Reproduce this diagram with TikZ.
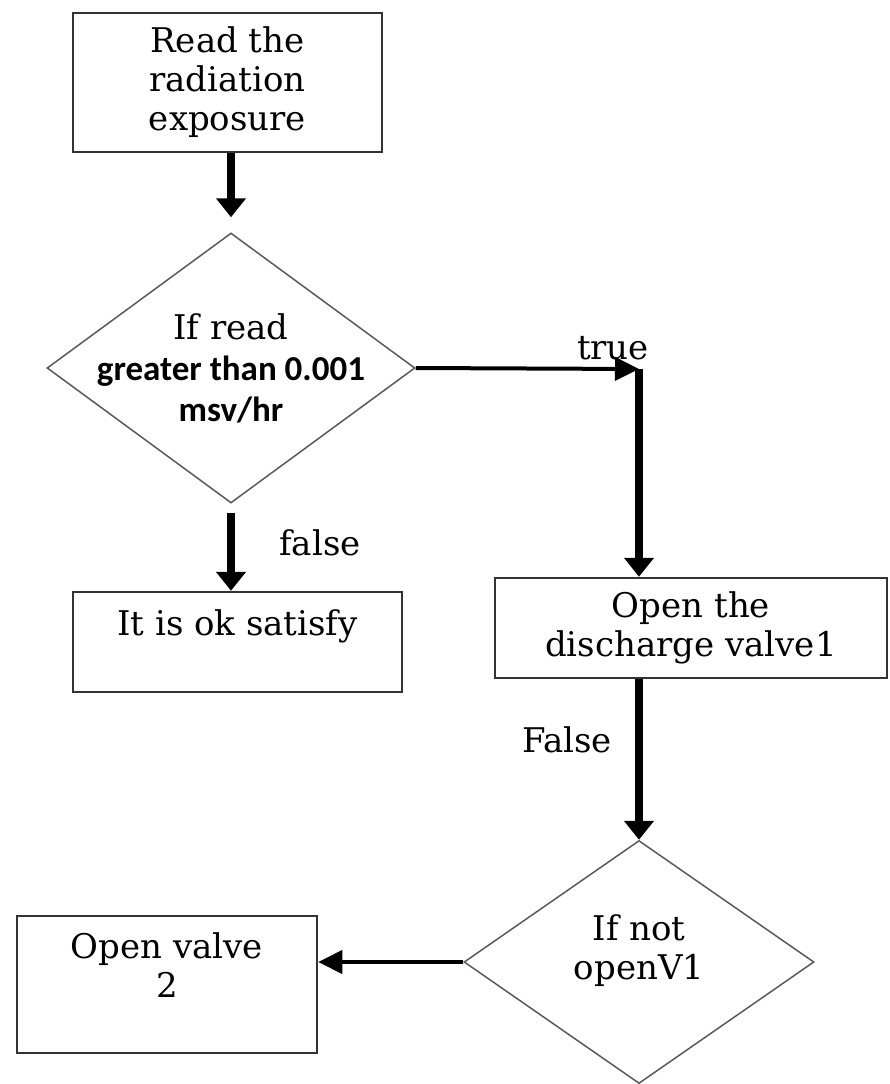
\documentclass[tikz,border=0pt]{standalone}
\usepackage{fontspec}
\setmainfont{DejaVu Serif}
\newfontfamily\calibri{Carlito}
\usetikzlibrary{shapes.geometric,arrows.meta}

\begin{document}
\begin{tikzpicture}
    [
    x=1pt,y=-1pt,
    every node/.style={font=\fontsize{34}{39}\selectfont},
    process/.style={rectangle,draw=black!80,line width=2.5pt,inner sep=0pt,align=center},
    decision/.style={diamond,draw=black!65,line width=1.5pt,inner sep=-30pt,align=center},
    flow/.style={line width=7.5pt,-{Triangle[length=19pt,width=29pt]}},
    branch/.style={line width=4pt,-{Triangle[length=24pt,width=23pt]}}
    ]
    \useasboundingbox (0,0) rectangle (889,1084);
    \node (read) at (227.5,82.5) [process,minimum width=309pt,minimum height=139pt] {Read the\\radiation\\exposure};
    \node (check) at (231,368) [decision,aspect=1.36,minimum width=368pt,minimum height=270pt,font=\fontsize{34}{41}\selectfont]
      {If read\\{\calibri\bfseries\fontsize{35}{41}\selectfont greater than 0.001}\\{\calibri\bfseries\fontsize{35}{41}\selectfont msv/hr}};
    \node (ok) at (237.5,642) [process,minimum width=329pt,minimum height=100pt] {It is ok satisfy\\\mbox{}};
    \node (valve1) at (691,628) [process,minimum width=392pt,minimum height=100pt] {Open the\\discharge valve1};
    \node (ifnot) at (639,962) [decision,aspect=1.44,minimum width=350pt,minimum height=243pt] {If not\\openV1\\[-10pt]\mbox{}};
    \node (valve2) at (167,984.5) [process,minimum width=300pt,minimum height=137pt] {Open valve\\2\\\mbox{}};
    \node (true) at (613,348) {true};
    \node (false) at (320,543) {false};
    \node (False) at (567,740) {False};
    \coordinate (corner) at (639,369);
    \draw [flow,shorten >=15pt] (check.north |- read.south) -- (check.north);
    \draw [flow,shorten <=9pt] (check.south) -- (check.south |- ok.north);
    \draw [branch] (check.east) -- (corner);
    \draw [flow] (corner) -- (corner |- valve1.north);
    \draw [flow] (corner |- valve1.south) -- (ifnot.north);
    \draw [branch] (ifnot.west) -- (ifnot.west -| valve2.east);
  \end{tikzpicture}
\end{document}
